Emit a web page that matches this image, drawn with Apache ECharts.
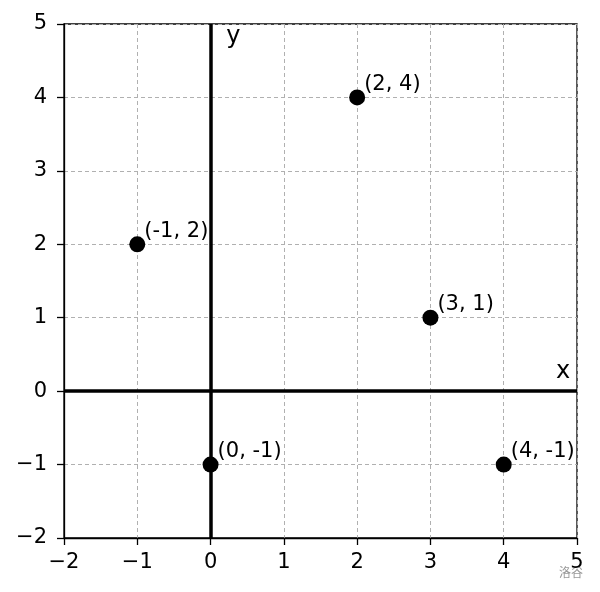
<!DOCTYPE html>
<html><head><meta charset="utf-8">
<script src="https://cdn.jsdelivr.net/npm/echarts@6/dist/echarts.min.js"></script>
<style>html,body{margin:0;padding:0;background:#fff}#c{width:600px;height:592px}</style>
</head><body><div id="c"></div>
<script>
const xs = [-1, 2, 3, 0, 4];
const ys = [2, 4, 1, -1, -1];
const pointLabels = ['(-1, 2)', '(2, 4)', '(3, 1)', '(0, -1)', '(4, -1)'];
const axisNames = [{text: 'x', pos: [4.81, 0.26]}, {text: 'y', pos: [0.31, 4.82]}];
const ticks = [-2, -1, 0, 1, 2, 3, 4, 5];

const fmt = v => String(v).replace('-', '\u2212');
const chart = echarts.init(document.getElementById('c'));
const font = 'DejaVu Sans';
chart.setOption({
  animation: false,
  backgroundColor: '#fff',
  grid: {left: 64, right: 23, top: 24, bottom: 54, show: true, borderColor: '#000', borderWidth: 1.3, backgroundColor: 'transparent'},
  xAxis: {
    type: 'value', min: -2, max: 5, interval: 1,
    axisLine: {show: true, onZero: false, lineStyle: {color: '#000', width: 1.3}},
    axisTick: {show: true, inside: false, length: 7, lineStyle: {color: '#000', width: 1.3}},
    axisLabel: {color: '#000', fontSize: 21, fontFamily: font, margin: 14, formatter: fmt},
    splitLine: {show: true, lineStyle: {color: '#b0b0b0', type: [4, 3], width: 1}}
  },
  yAxis: {
    type: 'value', min: -2, max: 5, interval: 1,
    axisLine: {show: true, onZero: false, lineStyle: {color: '#000', width: 1.3}},
    axisTick: {show: true, inside: false, length: 7, lineStyle: {color: '#000', width: 1.3}},
    axisLabel: {color: '#000', fontSize: 21, fontFamily: font, margin: 17, formatter: fmt},
    splitLine: {show: true, lineStyle: {color: '#b0b0b0', type: [4, 3], width: 1}}
  },
  series: [
    {
      type: 'scatter',
      data: xs.map((x, i) => [x, ys[i], pointLabels[i]]),
      symbolSize: 16,
      itemStyle: {color: '#000', opacity: 1},
      z: 5,
      label: {
        show: true, position: 'right', distance: 0, offset: [-1, -13],
        formatter: p => p.data[2], color: '#000', fontSize: 21, fontFamily: font
      },
      emphasis: {disabled: true},
      markLine: {
        silent: true, symbol: 'none', animation: false,
        lineStyle: {color: '#000', width: 3.5, type: 'solid', opacity: 1},
        label: {show: false},
        data: [{xAxis: 0}, {yAxis: 0}]
      }
    },
    {
      type: 'scatter',
      data: axisNames.map(a => [a.pos[0], a.pos[1], a.text]),
      symbolSize: 0,
      silent: true,
      itemStyle: {opacity: 1},
      label: {show: true, position: 'inside', formatter: p => p.data[2], color: '#000', fontSize: 24, fontFamily: font}
    }
  ],
  graphic: [{
    type: 'text', right: 17, bottom: 14,
    style: {text: '洛谷', fill: '#999', font: '12px "Noto Sans CJK SC"'}
  }]
});
</script></body></html>
